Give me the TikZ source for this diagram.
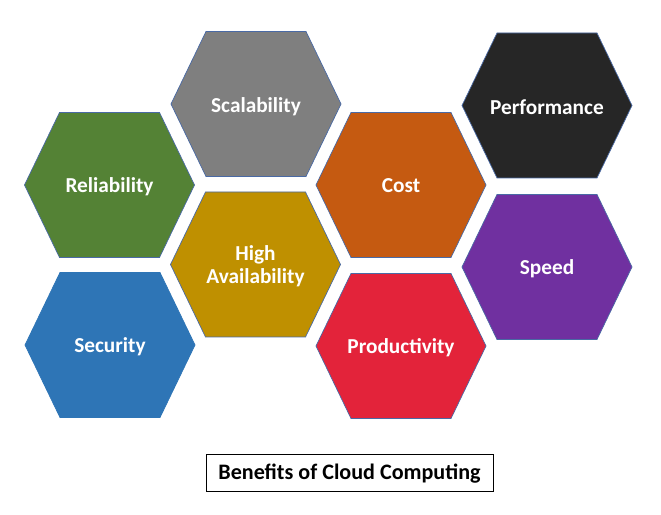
\documentclass[tikz,border=0pt]{standalone}
\usepackage{fontspec}
\newfontfamily\hexfont{Carlito}
\definecolor{cgreen}{HTML}{548235}
\definecolor{cgray}{HTML}{7F7F7F}
\definecolor{cdark}{HTML}{262626}
\definecolor{corange}{HTML}{C55A11}
\definecolor{cgold}{HTML}{BF9000}
\definecolor{cblue}{HTML}{2E75B6}
\definecolor{cred}{HTML}{E3233A}
\definecolor{cpurple}{HTML}{7030A0}
\definecolor{hexline}{HTML}{4A6AA5}
\tikzset{
  hex/.pic={\path[pic actions] (-85,0) -- (-50,72.5) -- (50,72.5) -- (85,0) -- (50,-72.5) -- (-50,-72.5) -- cycle;},
  hexstyle/.style={draw=hexline, line width=0.7pt, line join=miter},
  lbl/.style={text=white, font=\hexfont\bfseries\fontsize{21.3}{23}\selectfont, align=center, inner sep=0pt, yshift=-1.5pt},
  titlebox/.style={draw=black, line width=0.8pt, font=\hexfont\bfseries\fontsize{22.1}{25}\selectfont, minimum width=287pt, minimum height=37pt, inner sep=0pt, text depth=2pt}
}
\begin{document}
\begin{tikzpicture}[x=1pt,y=1pt]
\useasboundingbox (0,0) rectangle (661,514);
\pic[hexstyle, fill=cgreen]  at (109.5,329) {hex};
\pic[hexstyle, fill=cgray]   at (256,410)   {hex};
\pic[hexstyle, fill=cdark]   at (547,408.5) {hex};
\pic[hexstyle, fill=corange] at (401,329)   {hex};
\pic[hexstyle, fill=cgold]   at (255.5,249.5) {hex};
\pic[hexstyle, fill=cblue, draw=cblue] at (110,169) {hex};
\pic[hexstyle, fill=cred]    at (401,168)   {hex};
\pic[hexstyle, fill=cpurple] at (547,247)   {hex};
\node[lbl] (rel)  at (109.5,329) {Reliability};
\node[lbl] (sca)  at (256,409)   {Scalability};
\node[lbl] (perf) at (547,408.5) {Performance};
\node[lbl] (cost) at (401,330)   {Cost};
\node[lbl] (ha)   at (255.5,249.5) {High\\Availability};
\node[lbl] (sec)  at (110,169)   {Security};
\node[lbl] (prod) at (401,168)   {Productivity};
\node[lbl] (spd)  at (547,247)   {Speed};
\node[titlebox] (title) at (349.5,41.5) {Benefits of Cloud Computing};
\end{tikzpicture}
\end{document}
